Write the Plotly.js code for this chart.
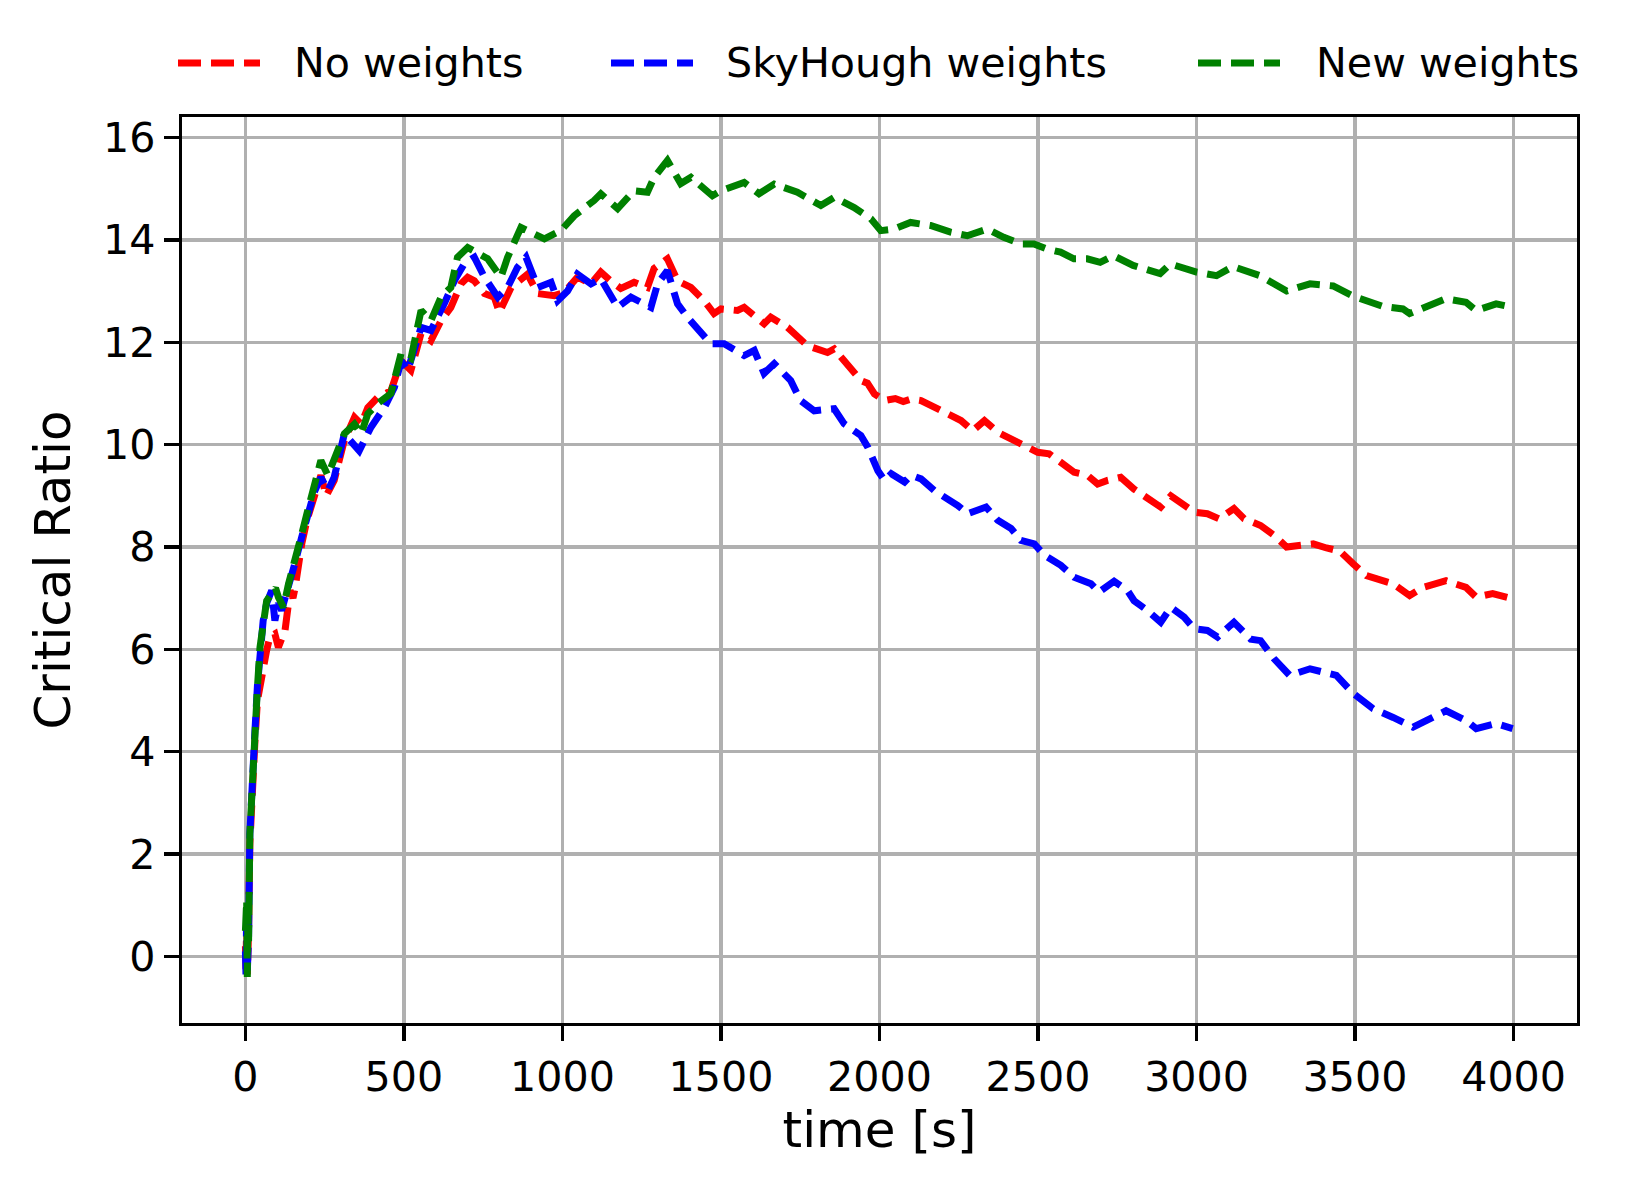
<!DOCTYPE html>
<html>
<head>
<meta charset="utf-8">
<script src="https://cdn.plot.ly/plotly-3.0.1.min.js"></script>
<style>
  html, body { margin: 0; padding: 0; background: #fff; }
  #chart { width: 1625px; height: 1191px; }
</style>
</head>
<body>
<div id="chart"></div>
<script>
// ── Data ─────────────────────────────────────────────────────
const tNo = [0, 2, 4, 6, 8, 10, 14, 21, 30, 38, 46, 56, 67, 77, 93, 104, 114, 125, 141, 150,
  157, 162, 178, 194, 217, 238, 255, 280, 312, 344, 365, 386, 417, 459, 491, 522, 554, 585,
  617, 648, 680, 701, 722, 754, 785, 801, 838, 890, 922, 974, 1005, 1047, 1090, 1121, 1152,
  1184, 1226, 1268, 1289, 1331, 1363, 1405, 1447, 1478, 1500, 1552, 1573, 1636, 1657, 1710,
  1773, 1836, 1857, 1909, 1942, 1962, 1984, 2016, 2050, 2075, 2100, 2131, 2163, 2215, 2257,
  2294, 2331, 2373, 2425, 2467, 2499, 2535, 2583, 2614, 2656, 2688, 2719, 2761, 2803, 2845,
  2887, 2919, 2961, 2993, 3034, 3071, 3118, 3150, 3202, 3244, 3284, 3320, 3368, 3410, 3452,
  3494, 3536, 3620, 3672, 3714, 3787, 3850, 3882, 3934, 3997];
const crNo = [0.2, -0.3, 0.9, -0.35, 0.6, 0.5, 2.2, 3.3, 4.2, 5.0, 5.3, 5.5, 5.98, 6.24, 6.3, 6.04, 6.2, 6.37, 7.15, 7.0,
  7.21, 7.47, 8.07, 8.52, 9.04, 9.4, 9.0, 9.3, 10.08, 10.53, 10.4, 10.72, 10.92, 11.05, 11.64, 11.45, 12.17, 12.03,
  12.42, 12.68, 13.14, 13.27, 13.2, 12.95, 12.88, 12.58, 13.07, 13.33, 12.95, 12.91, 12.97, 13.27, 13.14, 13.37, 13.2,
  13.05, 13.17, 13.07, 13.44, 13.63, 13.2, 13.07, 12.81, 12.56, 12.65, 12.62, 12.68, 12.36, 12.49, 12.29,
  11.93, 11.8, 11.87, 11.51, 11.25, 11.2, 10.99, 10.86, 10.9, 10.84, 10.89, 10.86, 10.76, 10.57, 10.47,
  10.27, 10.47, 10.24, 10.08, 9.95, 9.85, 9.82, 9.59, 9.46, 9.4, 9.23, 9.3, 9.36, 9.13, 8.94,
  8.78, 9.0, 8.81, 8.68, 8.65, 8.55, 8.75, 8.55, 8.42, 8.23, 8.0, 8.02, 8.06, 7.98, 7.92,
  7.67, 7.44, 7.28, 7.05, 7.21, 7.34, 7.21, 7.02, 7.09, 6.99];

const tSky = [0, 2, 4, 6, 8, 10, 14, 21, 30, 38, 46, 56, 67, 83, 93, 104, 114, 136, 157, 178,
  194, 217, 238, 260, 280, 312, 359, 396, 438, 470, 491, 512, 554, 585, 627, 659, 690, 722,
  754, 796, 827, 858, 885, 922, 964, 985, 1016, 1047, 1090, 1121, 1174, 1216, 1279, 1300,
  1331, 1363, 1394, 1436, 1468, 1510, 1573, 1605, 1636, 1668, 1720, 1751, 1794, 1857, 1888,
  1941, 1963, 1995, 2016, 2037, 2079, 2100, 2131, 2173, 2215, 2247, 2278, 2305, 2336, 2373,
  2415, 2446, 2488, 2520, 2572, 2614, 2667, 2693, 2740, 2782, 2803, 2845, 2887, 2919, 2961,
  2993, 3034, 3066, 3118, 3171, 3202, 3244, 3294, 3358, 3441, 3494, 3557, 3620, 3683, 3745,
  3787, 3850, 3882, 3945, 3997];
const crSky = [0.1, -0.4, 1.0, -0.3, 0.7, 0.4, 2.4, 3.5, 4.4, 5.3, 6.0, 6.56, 6.9, 7.15, 6.56, 6.9, 6.76, 7.21, 7.7, 8.2,
  8.6, 9.07, 9.36, 9.1, 9.36, 10.21, 9.88, 10.34, 10.72, 11.12, 11.64, 11.45, 12.29, 12.23, 12.75, 13.2, 13.53, 13.66,
  13.27, 12.88, 13.07, 13.46, 13.66, 13.07, 13.17, 12.81, 13.0, 13.33, 13.14, 13.24, 12.68, 12.88, 12.68, 13.14,
  13.4, 12.75, 12.49, 12.17, 11.97, 11.97, 11.74, 11.84, 11.39, 11.58, 11.25, 10.86, 10.66, 10.7, 10.41,
  10.18, 9.95, 9.49, 9.3, 9.43, 9.27, 9.4, 9.33, 9.1, 8.94, 8.81, 8.65, 8.71, 8.78, 8.52,
  8.36, 8.13, 8.06, 7.84, 7.64, 7.41, 7.28, 7.12, 7.33, 7.15, 6.95, 6.76, 6.53, 6.82, 6.63,
  6.4, 6.37, 6.24, 6.53, 6.2, 6.17, 5.82, 5.49, 5.62, 5.49, 5.14, 4.84, 4.67, 4.48, 4.67,
  4.8, 4.61, 4.45, 4.55, 4.45];

const tNew = [0, 2, 4, 6, 8, 10, 14, 21, 30, 38, 46, 56, 67, 83, 95, 104, 120, 136, 157, 178,
  194, 217, 238, 260, 280, 312, 344, 365, 386, 417, 459, 491, 522, 554, 585, 617, 648, 669,
  701, 732, 764, 806, 827, 869, 911, 943, 995, 1037, 1100, 1121, 1174, 1226, 1268, 1289, 1331,
  1373, 1405, 1436, 1473, 1500, 1552, 1573, 1620, 1668, 1741, 1815, 1857, 1920, 1973, 2004,
  2046, 2098, 2161, 2224, 2277, 2340, 2392, 2445, 2487, 2529, 2571, 2613, 2655, 2696, 2738,
  2800, 2885, 2917, 3000, 3063, 3115, 3200, 3284, 3358, 3431, 3494, 3588, 3651, 3672, 3745,
  3787, 3850, 3882, 3945, 3997];
const crNew = [0.5, -0.35, 1.1, -0.4, 0.9, 0.3, 2.4, 3.4, 4.35, 5.26, 6.04, 6.5, 6.95, 7.09, 7.2, 7.02, 6.82, 7.28, 7.73, 8.26,
  8.65, 9.17, 9.69, 9.4, 9.75, 10.21, 10.4, 10.21, 10.6, 10.8, 11.0, 11.78, 11.68, 12.62, 12.42, 12.88, 13.07, 13.66,
  13.85, 13.76, 13.63, 13.27, 13.66, 14.24, 14.12, 14.02, 14.18, 14.47, 14.77, 14.9, 14.61, 14.96, 14.93, 15.22, 15.55,
  15.1, 15.22, 15.06, 14.86, 14.96, 15.09, 15.12, 14.9, 15.09, 14.93, 14.67, 14.83, 14.63, 14.41, 14.18,
  14.21, 14.34, 14.28, 14.15, 14.08, 14.21, 14.05, 13.92, 13.92, 13.82, 13.76, 13.63, 13.63, 13.56, 13.69,
  13.5, 13.34, 13.53, 13.37, 13.3, 13.48, 13.3, 13.0, 13.14, 13.1, 12.9, 12.7, 12.65, 12.56, 12.75,
  12.85, 12.78, 12.62, 12.75, 12.68];

const SERIES = [
  { name: 'No weights',       t: tNo,  y: crNo,  color: '#ff0000' },
  { name: 'SkyHough weights', t: tSky, y: crSky, color: '#0000ff' },
  { name: 'New weights',      t: tNew, y: crNew, color: '#008000' },
];
const X_TICKS = [0, 500, 1000, 1500, 2000, 2500, 3000, 3500, 4000];

// ── Geometry / style ─────────────────────────────────────────
const W = 1625, H = 1191;
const M = { l: 182, r: 48, t: 117, b: 168 };
const PW = W - M.l - M.r, PH = H - M.t - M.b;
const FONT = 'DejaVu Sans, Liberation Sans, sans-serif';
const LW = 7;
const DASH = '23px,10px';
const GRID = '#b0b0b0';

// pixel -> paper helpers (for the hand-placed legend)
const px = x => (x - M.l) / PW;
const py = y => (H - M.b - y) / PH;

const traces = SERIES.map(s => ({
  type: 'scatter',
  mode: 'lines',
  name: s.name,
  x: s.t,
  y: s.y,
  line: { color: s.color, width: LW, dash: DASH },
  hoverinfo: 'skip',
}));

// legend drawn by hand so the handles match matplotlib's length
const legendPos = [
  { x0: 178,  x1: 260,  tx: 292 },
  { x0: 611,  x1: 693,  tx: 724 },
  { x0: 1198, x1: 1280, tx: 1314 },
];
const legendY = 63;

const shapes = SERIES.map((s, i) => ({
  type: 'line', xref: 'paper', yref: 'paper',
  x0: px(legendPos[i].x0), x1: px(legendPos[i].x1),
  y0: py(legendY), y1: py(legendY),
  line: { color: s.color, width: LW, dash: DASH },
}));

const annotations = SERIES.map((s, i) => ({
  xref: 'paper', yref: 'paper',
  x: px(legendPos[i].tx), y: py(legendY),
  xanchor: 'left', yanchor: 'middle',
  text: s.name, showarrow: false,
  font: { family: FONT, size: 41.2, color: '#000' },
}));

const axisBase = {
  showline: true, mirror: true, linecolor: '#000', linewidth: 3.3,
  ticks: 'outside', ticklen: 15, tickwidth: 3.3, tickcolor: '#000',
  tickfont: { family: FONT, size: 41.2, color: '#000' },
  showgrid: true, gridcolor: GRID, gridwidth: 3.3,
  zeroline: false, fixedrange: true,
};

const layout = {
  width: W, height: H,
  margin: M,
  paper_bgcolor: '#fff', plot_bgcolor: '#fff',
  font: { family: FONT, color: '#000' },
  showlegend: false,
  xaxis: {
    ...axisBase,
    range: [-200, 4200],
    tickmode: 'array', tickvals: X_TICKS, ticktext: X_TICKS.map(String),
    title: { text: 'time [s]', font: { family: FONT, size: 50, color: '#000' }, standoff: 13 },
  },
  yaxis: {
    ...axisBase,
    range: [-1.3, 16.4],
    tick0: 0, dtick: 2,
    title: { text: 'Critical Ratio', font: { family: FONT, size: 50, color: '#000' }, standoff: 17 },
  },
  shapes,
  annotations,
};

Plotly.newPlot('chart', traces, layout, { displayModeBar: false, staticPlot: true });
</script>
</body>
</html>
